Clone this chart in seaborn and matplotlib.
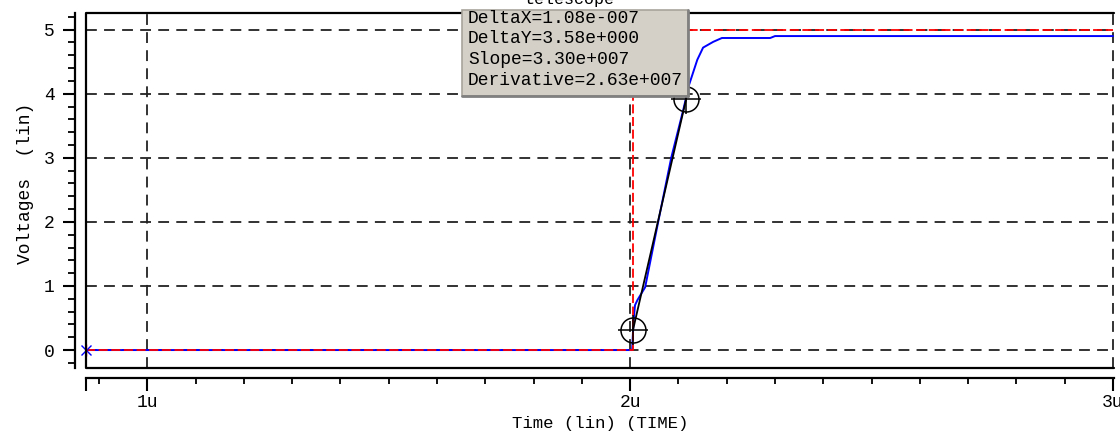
import matplotlib
matplotlib.use("Agg")
import matplotlib.pyplot as plt
from matplotlib.patches import Rectangle
from matplotlib.lines import Line2D
import seaborn as sns
import pandas as pd
import numpy as np

# ---- data (time in microseconds, voltage in V) ----
t_out = [0.873, 2.004, 2.007, 2.010, 2.015, 2.031, 2.058, 2.085, 2.110, 2.122,
         2.139, 2.151, 2.172, 2.190, 2.290, 2.300, 3.0]
v_out = [0.0, 0.0, 0.45, 0.70, 0.78, 0.98, 2.0, 3.0, 3.75, 4.14,
         4.53, 4.72, 4.81, 4.87, 4.87, 4.90, 4.90]
t_in = [0.873, 2.005, 2.005, 3.0]
v_in = [0.0, 0.0, 5.0, 5.0]
cursor_t = [2.006, 2.116]
cursor_v = [0.32, 3.92]
y_ticks = [0, 1, 2, 3, 4, 5]
x_ticks = [1, 2, 3]
x_tick_labels = ["1u", "2u", "3u"]
info_lines = ["DeltaX=1.08e-007", "DeltaY=3.58e+000", "Slope=3.30e+007",
              "Derivative=2.63e+007"]
title_text = "telescope"

sns.set_style("white")
MONO = ["Liberation Mono", "DejaVu Sans Mono"]
plt.rcParams["font.family"] = MONO

W, H = 1120, 432
fig = plt.figure(figsize=(W / 100, H / 100), dpi=100)
L, R, T, B = 86, 1114, 13, 368
ax = fig.add_axes([L / W, 1 - B / H, (R - L) / W, (B - T) / H])

XMIN, XMAX = 0.873, 3.002
YMIN, YMAX = -0.28, 5.26
ax.set_xlim(XMIN, XMAX)
ax.set_ylim(YMIN, YMAX)

# grid
grid_kw = dict(color="#222222", lw=1.3, linestyle=(0, (6, 4)), zorder=1)
for y in y_ticks:
    ax.axhline(y, **grid_kw)
for x in x_ticks:
    ax.axvline(x, **grid_kw)

df_out = pd.DataFrame({"t": t_out, "v": v_out})
df_in = pd.DataFrame({"t": t_in, "v": v_in})
df_cur = pd.DataFrame({"t": cursor_t, "v": cursor_v})

sns.lineplot(data=df_out, x="t", y="v", ax=ax, color="#0000ff", lw=1.4,
             sort=False, estimator=None, zorder=3)
sns.lineplot(data=df_in, x="t", y="v", ax=ax, color="#ff0000", lw=1.3,
             linestyle=(0, (5, 2)), sort=False, estimator=None, zorder=4)
sns.lineplot(data=df_cur, x="t", y="v", ax=ax, color="black", lw=1.3,
             sort=False, estimator=None, zorder=5)

# cursor markers
ax.plot(cursor_t, cursor_v, ls="none", marker="o", ms=18, mfc="none",
        mec="black", mew=1.1, zorder=6, clip_on=False)
ax.plot(cursor_t, cursor_v, ls="none", marker="+", ms=21, mec="black",
        mew=1.1, zorder=6, clip_on=False)

# start markers
ax.plot([t_out[0]], [v_out[0]], ls="none", marker="x", ms=7, mec="#0000ff",
        mew=1.0, zorder=6, clip_on=False)
ax.plot([t_in[0]], [v_in[0]], ls="none", marker="|", ms=9, mec="#ff0000",
        mew=1.0, zorder=6, clip_on=False)

# plot frame (top, left, bottom)
ax.plot([1, 0, 0, 1], [1, 1, 0, 0], transform=ax.transAxes, color="black",
        lw=1.6, clip_on=False, zorder=7)

# separate axis lines
for s in ["top", "right"]:
    ax.spines[s].set_visible(False)
ax.spines["left"].set_position(("outward", 8))
ax.spines["bottom"].set_position(("outward", 7))
for s in ["left", "bottom"]:
    ax.spines[s].set_color("black")
    ax.spines[s].set_linewidth(1.6)

ax.set_yticks(y_ticks)
ax.set_yticks(np.round(np.arange(-0.2, 5.21, 0.2), 2), minor=True)
ax.set_xticks([XMIN] + x_ticks)
ax.set_xticklabels([""] + x_tick_labels)
ax.set_xticks(np.round(np.arange(0.9, 3.0, 0.1), 2), minor=True)
ax.tick_params(axis="both", which="both", bottom=True, left=True,
               top=False, right=False)
ax.tick_params(axis="both", which="major", direction="out", length=9,
               width=1.5, color="black", labelsize=13, labelcolor="black")
ax.tick_params(axis="both", which="minor", direction="out", length=5,
               width=1.3, color="black")
ax.tick_params(axis="x", which="minor", length=4)
ax.tick_params(axis="y", which="major", pad=5.5)
ax.tick_params(axis="x", which="major", pad=3)
ax.set_yticklabels([str(v) for v in y_ticks])

ax.set_xlabel("Time (lin) (TIME)", fontsize=12.5, labelpad=3, color="black")
ax.set_ylabel("Voltages  (lin)", fontsize=13, color="black")
ax.yaxis.set_label_coords(-0.051, 0.52)

# info box
bx0, bx1, by0, by1 = 462, 688, 10, 96
box = Rectangle((bx0 / W, 1 - by1 / H), (bx1 - bx0) / W, (by1 - by0) / H,
                transform=fig.transFigure, facecolor="#d4d0c8",
                edgecolor="#a8a49c", lw=1.2, zorder=20)
fig.add_artist(box)
fig.add_artist(Line2D([bx1 / W, bx1 / W], [1 - by1 / H, 1 - by0 / H],
                      transform=fig.transFigure, color="#808080", lw=2.0, zorder=21))
fig.add_artist(Line2D([bx0 / W, bx1 / W], [1 - by1 / H, 1 - by1 / H],
                      transform=fig.transFigure, color="#808080", lw=2.0, zorder=21))
line_y = [23, 43, 64, 85]
for txt, py in zip(info_lines, line_y):
    t = fig.text(468 / W, 1 - py / H, txt, fontsize=13, ha="left", va="baseline",
                 color="black", zorder=22, family=MONO)
    t.set_clip_path(box)

fig.text(569 / W, 1 - 7 / H, title_text, fontsize=12, ha="center",
         va="bottom", color="black", family=MONO, zorder=25)

fig.savefig("out.png", dpi=100)
